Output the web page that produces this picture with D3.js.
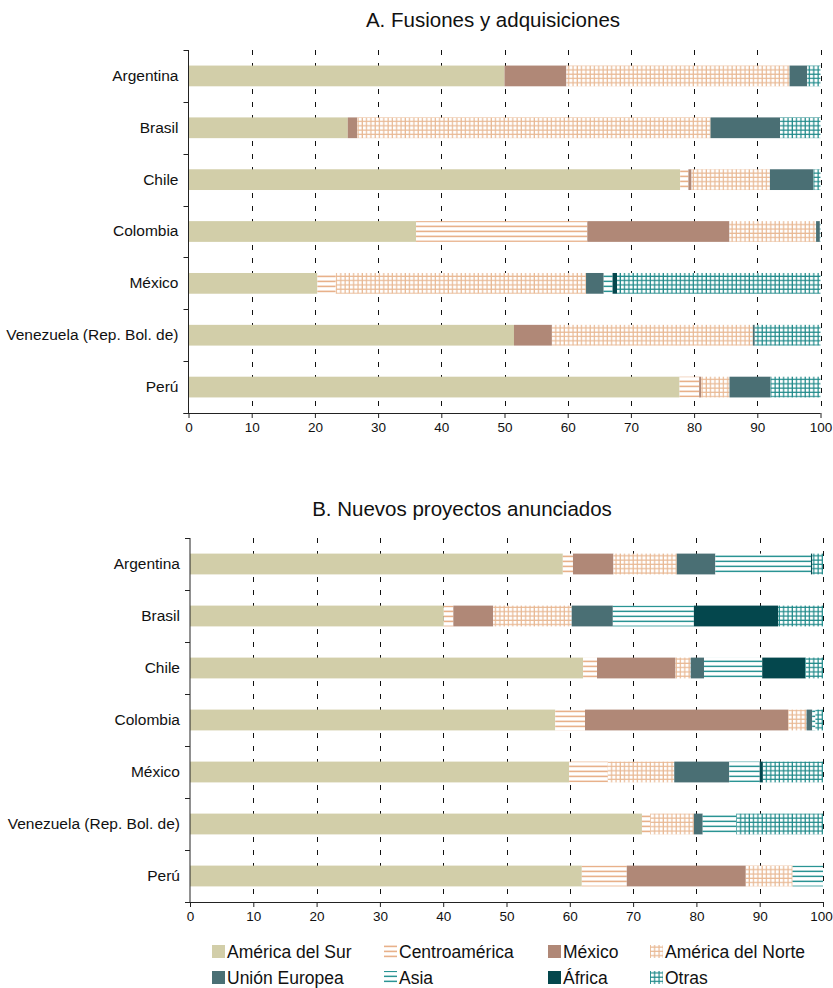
<!DOCTYPE html>
<html>
<head>
<meta charset="utf-8">
<script src="https://cdn.jsdelivr.net/npm/d3@7"></script>
<style>
  html, body { margin: 0; padding: 0; background: #fff; }
  svg { display: block; font-family: "Liberation Sans", Arial, sans-serif; }
</style>
</head>
<body>
<svg id="chart" width="833" height="988"></svg>
<script>
// ---------------- DATA ----------------
const categories = ["Argentina", "Brasil", "Chile", "Colombia", "México", "Venezuela (Rep. Bol. de)", "Perú"];
const seriesNames = ["América del Sur", "Centroamérica", "México", "América del Norte", "Unión Europea", "Asia", "África", "Otras"];
const xTicks = [0, 10, 20, 30, 40, 50, 60, 70, 80, 90, 100];
const titleA = "A. Fusiones y adquisiciones";
const titleB = "B. Nuevos proyectos anunciados";

// Panel A: Fusiones y adquisiciones (percent, in category order)
const aSur        = [50.0, 25.2, 77.8, 36.0, 20.4, 51.5, 77.7];
const aCentro     = [ 0.0,  0.0,  1.3, 27.1,  2.9,  0.0,  3.1];
const aMexico     = [ 9.8,  1.5,  0.5, 22.5,  0.0,  6.0,  0.3];
const aNorte      = [35.3, 55.9, 12.4, 13.7, 39.6, 31.8,  4.5];
const aUE         = [ 2.8, 11.0,  6.9,  0.6,  2.8,  0.3,  6.5];
const aAsia       = [ 0.0,  0.0,  0.0,  0.0,  1.4,  0.0,  0.0];
const aAfrica     = [ 0.0,  0.0,  0.0,  0.0,  0.7,  0.0,  0.0];
const aOtras      = [ 2.1,  6.4,  1.1,  0.1, 32.2, 10.4,  7.9];

// Panel B: Nuevos proyectos anunciados
const bSur        = [58.9, 40.1, 62.1, 57.7, 59.9, 71.4, 61.9];
const bCentro     = [ 1.6,  1.5,  2.2,  4.7,  6.1,  1.3,  7.1];
const bMexico     = [ 6.4,  6.3, 12.4, 32.1,  0.0,  0.0, 18.8];
const bNorte      = [10.0, 12.4,  2.4,  2.9, 10.5,  6.9,  7.4];
const bUE         = [ 6.1,  6.5,  2.1,  0.9,  8.7,  1.4,  0.0];
const bAsia       = [15.1, 12.8,  9.2,  0.5,  4.8,  5.3,  4.8];
const bAfrica     = [ 0.2, 13.3,  6.8,  0.0,  0.5,  0.0,  0.0];
const bOtras      = [ 1.7,  7.1,  2.8,  1.2,  9.5, 13.7,  0.0];

// ---------------- STYLE ----------------
const svg = d3.select("#chart");
const defs = svg.append("defs");

function hLines(id, color, period, sw) {
  const p = defs.append("pattern").attr("id", id).attr("patternUnits", "userSpaceOnUse")
    .attr("width", 8).attr("height", period);
  p.append("rect").attr("width", 8).attr("height", period).attr("fill", "#fff");
  p.append("rect").attr("x", 0).attr("y", 0.6).attr("width", 8).attr("height", sw).attr("fill", color);
}
function grid(id, color, period, sw) {
  const p = defs.append("pattern").attr("id", id).attr("patternUnits", "userSpaceOnUse")
    .attr("width", period).attr("height", period);
  p.append("rect").attr("width", period).attr("height", period).attr("fill", "#fff");
  p.append("rect").attr("x", 0).attr("y", 0.5).attr("width", period).attr("height", sw).attr("fill", color);
  p.append("rect").attr("x", 0.5).attr("y", 0).attr("width", sw).attr("height", period).attr("fill", color);
}
hLines("pCentro", "#e8b18a", 5, 1.6);
grid("pNorte", "#e9b994", 4.3, 1.2);
hLines("pAsia", "#2a9494", 5, 1.5);
grid("pOtras", "#1f8a8a", 4.3, 1.2);

const fills = ["#d2cea9", "url(#pCentro)", "#b08877", "url(#pNorte)", "#4a6f74", "url(#pAsia)", "#04474d", "url(#pOtras)"];

// ---------------- PANELS ----------------
function drawPanel(cfg) {
  const { series, top, bottom, left, right, title, titleX, titleY } = cfg;
  const g = svg.append("g");
  const x = d3.scaleLinear().domain([0, 100]).range([left, right]);
  const y = d3.scaleBand().domain(categories).range([top, bottom]).paddingInner(0.6).paddingOuter(0.3);

  // title
  g.append("text").attr("x", titleX).attr("y", titleY).attr("text-anchor", "middle")
    .attr("font-size", 20.5).attr("fill", "#111").text(title);

  // dashed grid
  g.append("g").selectAll("line").data(xTicks.filter(d => d > 0)).join("line")
    .attr("x1", d => Math.round(x(d)) + 0.5).attr("x2", d => Math.round(x(d)) + 0.5)
    .attr("y1", top).attr("y2", bottom)
    .attr("stroke", "#111").attr("stroke-width", 1).attr("stroke-dasharray", "5,8");

  // stacked bars
  const rows = categories.map((c, i) => {
    const o = { cat: c };
    seriesNames.forEach((s, k) => o[s] = series[k][i]);
    return o;
  });
  const stack = d3.stack().keys(seriesNames)(rows);
  g.append("g").selectAll("g").data(stack).join("g")
    .attr("fill", (d, k) => fills[k])
    .selectAll("rect").data(d => d.filter(v => v[1] - v[0] > 0)).join("rect")
    .attr("x", d => x(d[0])).attr("width", d => x(d[1]) - x(d[0]))
    .attr("y", d => y(d.data.cat)).attr("height", y.bandwidth());

  // y axis: labels at centres, ticks at band boundaries
  const yAxis = g.append("g").attr("transform", `translate(${left},0)`)
    .call(d3.axisLeft(y).tickSize(0).tickPadding(10));
  yAxis.select(".domain").remove();
  yAxis.selectAll("text").attr("font-size", 15.5).attr("fill", "#111")
    .attr("font-family", "'Liberation Sans', Arial, sans-serif");
  const bounds = d3.range(categories.length + 1).map(i => top + i * y.step());
  g.append("g").selectAll("line").data(bounds).join("line")
    .attr("x1", left - 5).attr("x2", left).attr("y1", d => Math.round(d) + 0.5).attr("y2", d => Math.round(d) + 0.5)
    .attr("stroke", "#222");
  g.append("line").attr("x1", left).attr("x2", left).attr("y1", top).attr("y2", bottom)
    .attr("stroke", "#222");

  // x axis
  const xAxis = g.append("g").attr("transform", `translate(0,${bottom})`)
    .call(d3.axisBottom(x).tickValues(xTicks).tickSize(5).tickPadding(4).tickSizeOuter(0));
  xAxis.select(".domain").attr("stroke", "#222").attr("d", `M${left - 5},0.5H${right}`);
  xAxis.selectAll(".tick line").attr("stroke", "#222");
  xAxis.selectAll("text").attr("font-size", 13.5).attr("fill", "#111")
    .attr("font-family", "'Liberation Sans', Arial, sans-serif")
    .attr("dx", d => (x(d) + 12 > 833 ? 833 - 12 - x(d) : 0));
}

drawPanel({
  series: [aSur, aCentro, aMexico, aNorte, aUE, aAsia, aAfrica, aOtras],
  top: 50, bottom: 413, left: 188.5, right: 820.5,
  title: titleA, titleX: 493, titleY: 27
});
drawPanel({
  series: [bSur, bCentro, bMexico, bNorte, bUE, bAsia, bAfrica, bOtras],
  top: 538, bottom: 902, left: 190, right: 823,
  title: titleB, titleX: 462, titleY: 516
});

// ---------------- LEGEND ----------------
const legendCols = [212, 384, 548, 650];
const legendRows = [952, 978];
const leg = svg.append("g");
seriesNames.forEach((s, k) => {
  const cx = legendCols[k % 4], cy = legendRows[Math.floor(k / 4)];
  const it = leg.append("g");
  it.append("rect").attr("x", cx).attr("y", cy - 7).attr("width", 13).attr("height", 13).attr("fill", fills[k]);
  it.append("text").attr("x", cx + 15).attr("y", cy + 6).attr("font-size", 17.5).attr("fill", "#111").text(s);
});
</script>
</body>
</html>
